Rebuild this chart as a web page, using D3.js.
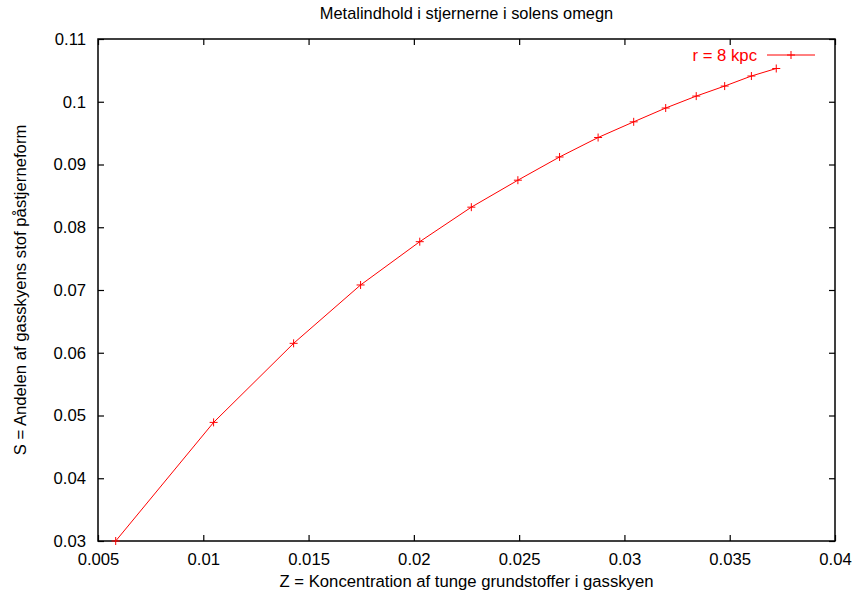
<!DOCTYPE html>
<html>
<head>
<meta charset="utf-8">
<script src="https://cdn.jsdelivr.net/npm/d3@7"></script>
<style>
  html, body { margin: 0; padding: 0; background: #fff; }
  svg { display: block; }
  text { font-family: "Liberation Sans", Arial, sans-serif; }
</style>
</head>
<body>
<svg id="chart" width="857" height="595"></svg>
<script>
// Metal content (Z) vs. fraction of gas turned into stars (S), r = 8 kpc
const zValues = [0.00584, 0.01049, 0.01429, 0.01747, 0.02028, 0.02273, 0.02494,
                 0.02692, 0.02875, 0.03044, 0.03196, 0.03341, 0.03476, 0.03603, 0.03721];
const sValues = [0.0300, 0.0489, 0.0615, 0.0708, 0.0777, 0.0832, 0.0875,
                 0.0912, 0.0943, 0.0968, 0.0990, 0.1009, 0.1025, 0.1041, 0.1053];
const xTicks = [0.005, 0.01, 0.015, 0.02, 0.025, 0.03, 0.035, 0.04];
const yTicks = [0.03, 0.04, 0.05, 0.06, 0.07, 0.08, 0.09, 0.1, 0.11];
const seriesName = "r = 8 kpc";
const titleText = "Metalindhold i stjernerne i solens omegn";
const xLabelText = "Z = Koncentration af tunge grundstoffer i gasskyen";
const yLabelText = "S = Andelen af gasskyens stof påstjerneform";

const data = zValues.map((z, i) => ({ z, s: sValues[i] }));

const svg = d3.select("#chart");
const margin = { left: 98, right: 22, top: 39, bottom: 54 };
const W = 857, H = 595;
const iw = W - margin.left - margin.right;
const ih = H - margin.top - margin.bottom;
const fontSize = 16.7;
const red = "#ff0000";

const x = d3.scaleLinear().domain([0.005, 0.04]).range([margin.left, margin.left + iw]);
const y = d3.scaleLinear().domain([0.03, 0.11]).range([margin.top + ih, margin.top]);

const tickLen = 6;

// Axes: inward ticks, mirrored on the opposite side (labels only bottom/left)
const fmt = d => String(+d.toFixed(4));
const gx = svg.append("g").attr("transform", `translate(0,${margin.top + ih})`)
  .call(d3.axisBottom(x).tickValues(xTicks).tickFormat(fmt).tickSizeInner(-tickLen).tickSizeOuter(0).tickPadding(tickLen + 6));
const gxTop = svg.append("g").attr("transform", `translate(0,${margin.top})`)
  .call(d3.axisTop(x).tickValues(xTicks).tickFormat("").tickSizeInner(-tickLen).tickSizeOuter(0));
const gy = svg.append("g").attr("transform", `translate(${margin.left},0)`)
  .call(d3.axisLeft(y).tickValues(yTicks).tickFormat(fmt).tickSizeInner(-tickLen).tickSizeOuter(0).tickPadding(tickLen + 6));
const gyRight = svg.append("g").attr("transform", `translate(${margin.left + iw},0)`)
  .call(d3.axisRight(y).tickValues(yTicks).tickFormat("").tickSizeInner(-tickLen).tickSizeOuter(0));

[gx, gxTop, gy, gyRight].forEach(g => {
  g.select(".domain").remove();
  g.selectAll(".tick line").attr("stroke", "#000").attr("stroke-width", 1.2);
  g.selectAll(".tick text").attr("font-size", fontSize).attr("fill", "#000")
    .attr("font-family", "Liberation Sans, Arial, sans-serif");
});

// Frame
svg.append("rect")
  .attr("x", margin.left).attr("y", margin.top)
  .attr("width", iw).attr("height", ih)
  .attr("fill", "none").attr("stroke", "#000").attr("stroke-width", 1.5);

// Series line
const line = d3.line().x(d => x(d.z)).y(d => y(d.s));
svg.append("path").datum(data)
  .attr("d", line).attr("fill", "none").attr("stroke", red).attr("stroke-width", 1);

// Plus markers
const ps = 4;
const plus = (cx, cy) => `M${cx - ps},${cy}H${cx + ps}M${cx},${cy - ps}V${cy + ps}`;
svg.append("g").selectAll("path").data(data).join("path")
  .attr("d", d => plus(x(d.z), y(d.s)))
  .attr("stroke", red).attr("stroke-width", 1).attr("fill", "none");

// Legend
const lg = svg.append("g");
const lgY = 55;
lg.append("text").attr("x", 757).attr("y", lgY).attr("dy", "0.35em")
  .attr("text-anchor", "end").attr("font-size", fontSize).attr("fill", red).text(seriesName);
lg.append("line").attr("x1", 767).attr("x2", 815).attr("y1", lgY).attr("y2", lgY)
  .attr("stroke", red).attr("stroke-width", 1);
lg.append("path").attr("d", plus(791, lgY)).attr("stroke", red).attr("stroke-width", 1);

// Title and axis labels
svg.append("text").attr("x", margin.left + iw / 2).attr("y", 19)
  .attr("text-anchor", "middle").attr("font-size", 16.4).attr("fill", "#000").text(titleText);
svg.append("text").attr("x", margin.left + iw / 2).attr("y", 587)
  .attr("text-anchor", "middle").attr("font-size", fontSize).attr("fill", "#000").text(xLabelText);
svg.append("text").attr("transform", `translate(26,${margin.top + ih / 2}) rotate(-90)`)
  .attr("text-anchor", "middle").attr("font-size", fontSize).attr("fill", "#000").text(yLabelText);
</script>
</body>
</html>
